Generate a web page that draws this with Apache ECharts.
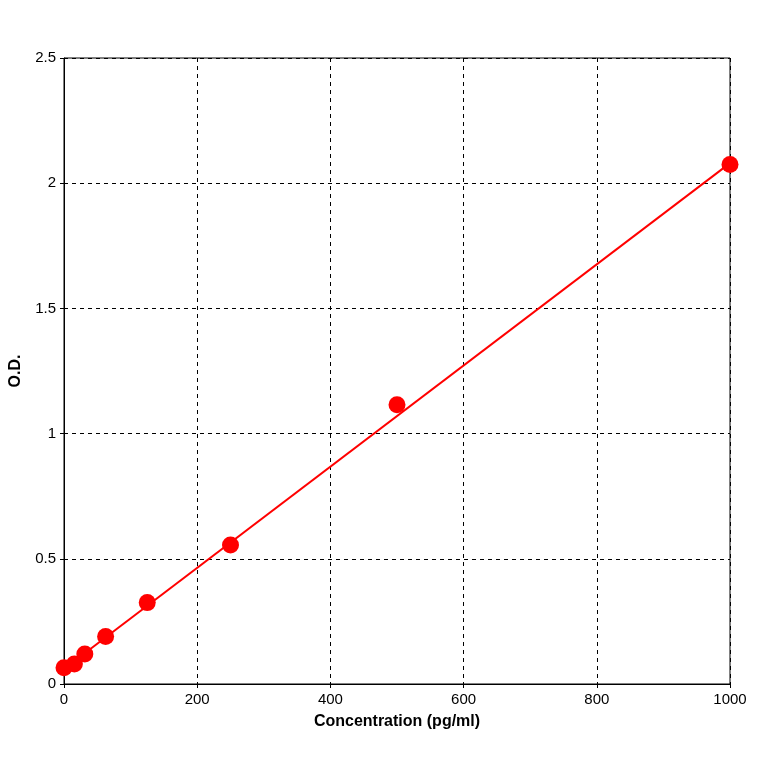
<!DOCTYPE html>
<html><head><meta charset="utf-8">
<script src="https://cdn.jsdelivr.net/npm/echarts@6/dist/echarts.min.js"></script>
<style>html,body{margin:0;padding:0;background:#fff}#c{width:764px;height:764px}</style>
</head><body><div id="c"></div>
<script>
const concX = [0, 15.6, 31.25, 62.5, 125, 250, 500, 1000];
const odY = [0.065, 0.08, 0.12, 0.19, 0.325, 0.555, 1.115, 2.075];
const fitX = [0, 1000];
const fitY = [0.06, 2.08];
const chart = echarts.init(document.getElementById('c'));
const axisCommon = {
  axisLine:{show:true,lineStyle:{color:'#000'}},
  axisTick:{show:true,inside:false,length:4,lineStyle:{color:'#000'}},
  axisLabel:{color:'#000',fontSize:15,fontFamily:'Arial, Liberation Sans',formatter:v=>String(v)},
  splitLine:{show:true,lineStyle:{color:'#000',type:[4,4],width:1}}
};
chart.setOption({
  animation:false,
  grid:{left:62,right:34,top:58,bottom:80,show:true,borderColor:'#000',borderWidth:1},
  xAxis:Object.assign({type:'value',min:0,max:1000,interval:200,name:'Concentration (pg/ml)',nameLocation:'middle',nameGap:30,
    nameTextStyle:{fontWeight:'bold',fontSize:16,color:'#000',fontFamily:'Arial, Liberation Sans'}},axisCommon),
  yAxis:Object.assign({type:'value',min:0,max:2.5,interval:0.5,name:'O.D.',nameLocation:'middle',nameGap:40,
    nameTextStyle:{fontWeight:'bold',fontSize:16,color:'#000',fontFamily:'Arial, Liberation Sans'}},axisCommon),
  series:[
    {type:'line',data:fitX.map((x,i)=>[x,fitY[i]]),showSymbol:false,lineStyle:{color:'#ff0000',width:2},z:2},
    {type:'scatter',data:concX.map((x,i)=>[x,odY[i]]),symbolSize:17,itemStyle:{color:'#ff0000',opacity:1},z:3}
  ]
});
</script></body></html>
